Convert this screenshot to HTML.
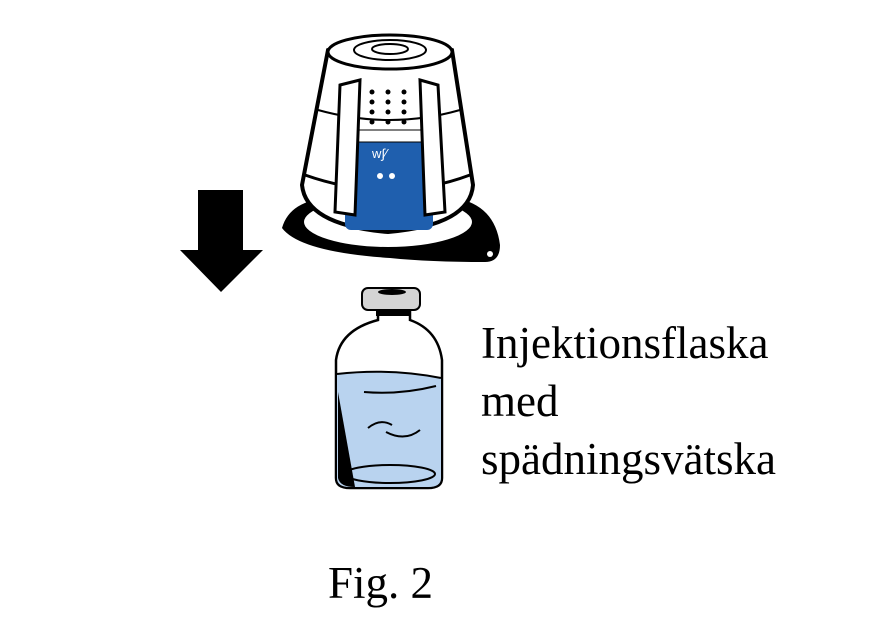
<!DOCTYPE html>
<html><head><style>
body{margin:0;background:#fff;width:877px;height:630px;overflow:hidden}
svg{position:absolute;left:0;top:0}
.t{font-family:"Liberation Serif",serif;font-size:45px;fill:#000}
</style></head><body>
<svg width="877" height="630" viewBox="0 0 877 630">
<polygon points="198,190 243,190 243,250 263,250 221,292 180,250 198,250" fill="#000"/>
<path d="M282,228 Q290,200 330,198 L455,198 Q495,205 500,245 Q500,262 485,262 Q430,262 390,258 Q300,252 282,228 Z" fill="#000"/>
<circle cx="490" cy="254" r="3" fill="#fff"/>
<ellipse cx="388" cy="222" rx="85" ry="26" fill="#fff" stroke="#000" stroke-width="2"/>
<path d="M302,185 L328,50 Q390,30 452,50 L473,185 Q470,225 388,232 Q306,225 302,185 Z" fill="#fff" stroke="#000" stroke-width="4"/>
<ellipse cx="390" cy="52" rx="62" ry="17" fill="#fff" stroke="#000" stroke-width="3"/>
<ellipse cx="390" cy="50" rx="36" ry="10" fill="none" stroke="#000" stroke-width="2"/>
<ellipse cx="390" cy="49" rx="18" ry="5" fill="none" stroke="#000" stroke-width="2"/>
<path d="M305,175 Q390,205 470,175" fill="none" stroke="#000" stroke-width="3"/>
<path d="M318,110 Q390,130 460,110" fill="none" stroke="#000" stroke-width="2"/>
<rect x="345" y="135" width="88" height="95" rx="6" fill="#1f5fae"/>
<rect x="345" y="130" width="88" height="12" fill="#fff" stroke="#000" stroke-width="1"/>
<text x="372" y="158" font-family="Liberation Sans,sans-serif" font-size="13" fill="#fff">w∫⁄</text>
<circle cx="380" cy="176" r="3" fill="#fff"/><circle cx="392" cy="176" r="3" fill="#fff"/>
<path d="M340,85 L360,80 L355,215 L335,212 Z" fill="#fff" stroke="#000" stroke-width="3"/>
<path d="M420,80 L438,85 L445,212 L425,215 Z" fill="#fff" stroke="#000" stroke-width="3"/>
<g fill="#000">
<circle cx="372" cy="92" r="2.5"/><circle cx="388" cy="92" r="2.5"/><circle cx="404" cy="92" r="2.5"/>
<circle cx="372" cy="102" r="2.5"/><circle cx="388" cy="102" r="2.5"/><circle cx="404" cy="102" r="2.5"/>
<circle cx="372" cy="112" r="2.5"/><circle cx="388" cy="112" r="2.5"/><circle cx="404" cy="112" r="2.5"/>
<circle cx="372" cy="122" r="2.5"/><circle cx="388" cy="122" r="2.5"/><circle cx="404" cy="122" r="2.5"/>
</g>
<path d="M378,312 L378,320 Q340,330 336,360 L336,478 Q336,488 350,488 L428,488 Q442,488 442,478 L442,360 Q438,330 410,320 L410,312 Z" fill="#fff" stroke="#000" stroke-width="2.5"/>
<path d="M337,374 Q390,368 441,378 L441,478 Q441,487 428,487 L350,487 Q337,487 337,478 Z" fill="#b9d3ef"/>
<path d="M337,374 Q390,368 441,378" fill="none" stroke="#000" stroke-width="2"/>
<path d="M338,392 L338,478 Q340,487 355,487 Z" fill="#000"/>
<ellipse cx="390" cy="474" rx="45" ry="9" fill="none" stroke="#000" stroke-width="2"/>
<path d="M364,392 Q400,395 436,386" fill="none" stroke="#000" stroke-width="2"/>
<path d="M368,428 Q380,418 392,425" fill="none" stroke="#000" stroke-width="2"/>
<path d="M386,432 Q405,442 420,430" fill="none" stroke="#000" stroke-width="2"/>
<rect x="362" y="288" width="58" height="22" rx="6" fill="#d4d4d4" stroke="#000" stroke-width="2"/>
<ellipse cx="392" cy="292" rx="14" ry="3" fill="#000"/>
<rect x="376" y="310" width="34" height="6" fill="#000"/>
<text class="t" x="481" y="358">Injektionsflaska</text>
<text class="t" x="481" y="416">med</text>
<text class="t" x="481" y="474">spädningsvätska</text>
<text class="t" x="328" y="598">Fig. 2</text>
</svg>
</body></html>
